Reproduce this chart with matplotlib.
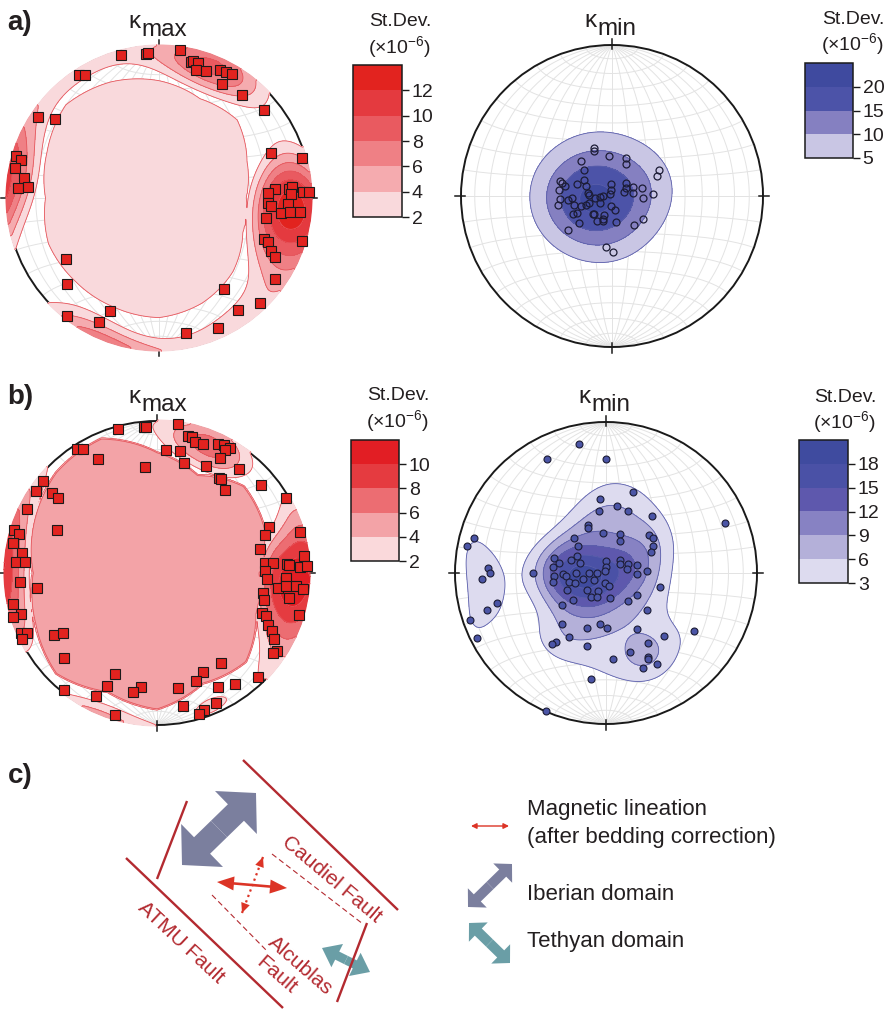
import matplotlib.pyplot as plt
import numpy as np
from matplotlib.patches import Circle, FancyArrow

plt.rcParams["font.family"] = ["Liberation Sans", "DejaVu Sans"]

W, H = 892, 1010
INK = "#231f20"

# Principal susceptibility axes, lower hemisphere equal-area net (unit radius, x=E, y=N)
kmax_a = np.array([
    [-0.252, 0.941], [-0.088, 0.947], [-0.075, 0.956], [0.140, 0.971], [0.208, 0.893],
    [0.226, 0.899], [0.257, 0.886], [0.243, 0.842], [0.309, 0.838], [0.404, 0.842],
    [0.439, 0.829], [0.482, 0.816], [0.417, 0.752], [0.546, 0.675], [0.689, 0.579],
    [-0.526, 0.809], [-0.487, 0.809], [-0.794, 0.533], [-0.686, 0.520], [-0.943, 0.276],
    [-0.906, 0.250], [-0.947, 0.195], [-0.886, 0.129], [-0.928, 0.068], [-0.864, 0.070],
    [0.739, 0.298], [0.939, 0.265], [0.765, 0.057], [0.717, 0.035], [0.853, 0.057],
    [0.877, 0.070], [0.871, 0.029], [0.947, 0.037], [0.985, 0.037], [0.717, -0.035],
    [0.737, -0.050], [0.851, -0.037], [0.803, -0.101], [0.860, -0.090], [0.928, -0.090],
    [0.702, -0.134], [0.693, -0.272], [0.717, -0.289], [0.939, -0.283], [0.739, -0.346],
    [0.763, -0.386], [0.765, -0.533], [0.664, -0.689], [-0.614, -0.399], [-0.607, -0.564],
    [0.428, -0.596], [-0.605, -0.776], [-0.325, -0.746], [-0.397, -0.814], [0.520, -0.739],
    [0.390, -0.853], [0.175, -0.886],
])
kmin_a = np.array([
    [-0.117, 0.319], [-0.117, 0.297], [-0.022, 0.267], [0.090, 0.251], [0.093, 0.211],
    [-0.207, 0.233], [-0.185, 0.174], [0.311, 0.174], [0.300, 0.134], [-0.344, 0.099],
    [-0.329, 0.086], [-0.311, 0.068], [-0.352, 0.040], [-0.231, 0.081], [-0.185, 0.104],
    [-0.170, 0.068], [-0.004, 0.077], [-0.009, 0.040], [-0.011, 0.011], [0.093, 0.084],
    [0.139, 0.057], [0.093, 0.051], [0.077, 0.024], [0.137, 0.018], [0.198, 0.051],
    [0.205, -0.011], [0.269, 0.015], [-0.161, 0.018], [-0.152, 0.007], [-0.115, -0.015],
    [-0.079, -0.009], [-0.062, 0.002], [-0.079, -0.046], [-0.344, -0.020], [-0.293, -0.029],
    [-0.267, -0.015], [-0.355, -0.059], [-0.251, -0.059], [-0.207, -0.068], [-0.170, -0.059],
    [-0.150, -0.048], [-0.009, -0.064], [0.018, -0.090], [-0.231, -0.114], [-0.258, -0.121],
    [-0.128, -0.117], [-0.117, -0.121], [-0.051, -0.123], [-0.057, -0.150], [-0.101, -0.165],
    [-0.062, -0.165], [-0.220, -0.176], [0.029, -0.174], [0.148, -0.192], [0.205, -0.150],
    [-0.293, -0.222], [-0.040, -0.341], [0.009, -0.368],
])
kmax_b = np.array([
    [-0.257, 0.945], [-0.086, 0.963], [-0.075, 0.958], [0.140, 0.978], [0.202, 0.901],
    [0.232, 0.897], [0.248, 0.862], [0.300, 0.846], [0.404, 0.851], [0.443, 0.842],
    [0.480, 0.820], [0.450, 0.809], [0.414, 0.759], [0.180, 0.721], [0.322, 0.706],
    [0.537, 0.682], [0.057, 0.809], [0.149, 0.805], [-0.529, 0.816], [-0.489, 0.816],
    [-0.390, 0.750], [-0.077, 0.700], [0.410, 0.627], [0.419, 0.621], [0.447, 0.544],
    [0.686, 0.581], [0.847, 0.496], [-0.752, 0.605], [-0.798, 0.539], [-0.691, 0.524],
    [-0.649, 0.491], [-0.857, 0.419], [-0.656, 0.283], [-0.941, 0.283], [-0.908, 0.254],
    [-0.950, 0.199], [-0.888, 0.132], [-0.930, 0.070], [-0.866, 0.072], [-0.904, -0.061],
    [-0.789, -0.101], [-0.947, -0.206], [-0.893, -0.272], [-0.947, -0.292], [-0.893, -0.393],
    [-0.853, -0.397], [-0.888, -0.432], [-0.680, -0.410], [-0.621, -0.395], [-0.610, -0.557],
    [0.735, 0.300], [0.711, 0.252], [0.939, 0.268], [0.680, 0.158], [0.969, 0.112],
    [0.711, 0.064], [0.761, 0.064], [0.853, 0.059], [0.866, 0.050], [0.943, 0.042],
    [0.985, 0.046], [0.711, 0.015], [0.724, -0.039], [0.849, -0.031], [0.796, -0.096],
    [0.851, -0.083], [0.917, -0.083], [0.961, -0.103], [0.700, -0.129], [0.706, -0.178],
    [0.871, -0.162], [0.691, -0.261], [0.719, -0.283], [0.936, -0.276], [0.732, -0.342],
    [0.759, -0.379], [0.770, -0.436], [0.792, -0.511], [0.761, -0.529], [0.419, -0.592],
    [0.303, -0.653], [0.257, -0.711], [-0.274, -0.664], [-0.329, -0.741], [-0.103, -0.748],
    [-0.156, -0.785], [0.136, -0.759], [0.399, -0.748], [0.515, -0.732], [0.662, -0.682],
    [-0.612, -0.772], [-0.399, -0.807], [0.169, -0.875], [0.386, -0.853], [0.311, -0.901],
    [0.274, -0.930], [-0.274, -0.936],
])
kmin_b = np.array([
    [-0.182, 0.857], [-0.389, 0.752], [0.002, 0.756], [0.178, 0.534], [-0.040, 0.488],
    [-0.048, 0.413], [0.073, 0.446], [0.145, 0.413], [0.305, 0.380], [-0.116, 0.321],
    [-0.119, 0.295], [-0.022, 0.268], [0.090, 0.255], [0.092, 0.211], [0.284, 0.251],
    [0.312, 0.229], [0.310, 0.176], [0.299, 0.136], [-0.209, 0.235], [-0.185, 0.178],
    [-0.877, 0.229], [-0.923, 0.180], [-0.782, 0.035], [-0.771, 0.000], [-0.820, -0.042],
    [-0.483, 0.000], [-0.721, -0.198], [-0.785, -0.242], [-0.903, -0.312], [-0.851, -0.431],
    [-0.345, 0.101], [-0.308, 0.068], [-0.349, 0.040], [-0.231, 0.084], [-0.189, 0.110],
    [-0.169, 0.068], [-0.002, 0.079], [-0.002, 0.040], [-0.009, 0.015], [0.095, 0.088],
    [0.090, 0.057], [0.143, 0.057], [0.202, 0.051], [0.136, 0.024], [0.204, -0.009],
    [0.270, 0.015], [-0.345, -0.018], [-0.286, -0.009], [-0.262, -0.018], [-0.244, -0.059],
    [-0.207, -0.066], [-0.154, -0.042], [-0.110, 0.000], [-0.081, -0.044], [-0.062, 0.000],
    [-0.196, 0.002], [-0.352, -0.059], [-0.259, -0.114], [-0.125, -0.114], [-0.097, -0.158],
    [-0.055, -0.121], [-0.062, -0.158], [-0.004, -0.068], [0.020, -0.084], [0.029, -0.167],
    [-0.220, -0.176], [-0.290, -0.215], [0.147, -0.187], [0.204, -0.143], [0.358, -0.095],
    [0.273, -0.246], [-0.290, -0.341], [-0.125, -0.363], [-0.037, -0.336], [0.009, -0.365],
    [0.207, -0.371], [0.387, -0.415], [0.585, -0.385], [-0.246, -0.422], [-0.334, -0.457],
    [-0.360, -0.473], [-0.123, -0.481], [0.275, -0.462], [0.160, -0.521], [0.048, -0.571],
    [0.275, -0.556], [0.275, -0.571], [0.244, -0.626], [0.336, -0.602], [-0.097, -0.705],
    [-0.396, -0.916], [0.787, 0.330],
])

# St.Dev. (x1e-6) contour levels and fills
levels_max_a = [2, 4, 6, 8, 10, 12, 14]
colors_max_a = ["#f9d9dc", "#f5abaf", "#ef8085", "#e95a60", "#e43a3f", "#e2231f"]
levels_min_a = [5, 10, 15, 20, 25]
colors_min_a = ["#c9c6e4", "#8580c1", "#4c53a8", "#3f4a9f"]
levels_max_b = [2, 4, 6, 8, 10, 12]
colors_max_b = ["#fad9db", "#f3a3a7", "#ec6d72", "#e53b40", "#e21e24"]
levels_min_b = [3, 6, 9, 12, 15, 18, 21]
colors_min_b = ["#dddbef", "#b4b0d9", "#8782c3", "#5e58ad", "#4a51a6", "#3f4b9f"]

# highest St.Dev. value reached in each plot
peak_max_a, peak_min_a, peak_max_b, peak_min_b = 13.5, 21.5, 11.5, 19.5

# central plateau of the kmax plots: boundary radius every 22.5 deg from N, and its value
plateau_az = np.arange(0, 360, 22.5)
plateau_max_a = [0.765, 0.70, 0.72, 0.62, 0.566, 0.59, 0.68, 0.74,
                 0.78, 0.77, 0.77, 0.78, 0.74, 0.79, 0.86, 0.82]
plateau_max_b = [0.787, 0.69, 0.80, 0.76, 0.667, 0.70, 0.82, 0.78,
                 0.89, 0.84, 0.93, 0.86, 0.81, 0.87, 0.93, 0.95]
plateau_level_a, plateau_level_b = 3.0, 5.0

# sketch of panel c (pixel coordinates)
fault_traces = [[(243, 760), (398, 910)], [(126, 858), (283, 1008)],
                [(187, 801), (157, 879)], [(367, 923), (337, 1002)]]
dashed_traces = [[(272, 854), (363, 924)], [(212, 895), (267, 951)]]
iberian_tips = [(182, 865), (256, 793)]
tethyan_tips = [(322, 948), (370, 972)]
lineation_tips = [(217, 882), (287, 888)]
dotted_tips = [(263, 857), (242, 913)]
fault_names = [("Caudiel Fault", 332, 879, -40), ("ATMU Fault", 181, 943, -43),
               ("Alcublas", 300, 966, -41), ("Fault", 276, 975, -41)]
legend_labels = [("Magnetic lineation", 810), ("(after bedding correction)", 838),
                 ("Iberian domain", 895), ("Tethyan domain", 942)]

FAULT_RED = "#b32a30"
LIN_RED = "#dc3426"
IBERIAN = "#7b7f9e"
TETHYAN = "#6a9ea6"

fig = plt.figure(figsize=(W / 100, H / 100), dpi=100)


def px_axes(left, top, width, height, **kw):
    return fig.add_axes([left / W, 1 - (top + height) / H, width / W, height / H], **kw)


def to_vec(x, y):
    r = np.hypot(x, y)
    theta = 2 * np.arcsin(np.clip(r, 0, 1) / np.sqrt(2))
    s = np.sin(theta) / np.maximum(r, 1e-9)
    return np.stack([x * s, y * s, -np.cos(theta)], axis=-1)


def project(vx, vy, vz):
    theta = np.arccos(np.clip(-vz, -1, 1))
    r = np.sqrt(2) * np.sin(theta / 2)
    h = np.hypot(vx, vy)
    h = np.where(h < 1e-12, 1, h)
    return r * vx / h, r * vy / h


# Schmidt net: great circles through N-S axis and small circles around it
t = np.linspace(0, np.pi, 181)
net_lines = []
for a in np.radians(np.arange(10, 180, 10)):
    net_lines.append(project(np.sin(t) * np.cos(a), np.cos(t), -np.sin(t) * np.sin(a)))
    net_lines.append(project(np.sin(a) * np.cos(t), np.full_like(t, np.cos(a)), -np.sin(a) * np.sin(t)))

grid = np.linspace(-1.03, 1.03, 261)
GX, GY = np.meshgrid(grid, grid)
GR = np.hypot(GX, GY)
GAZ = np.degrees(np.arctan2(GX, GY)) % 360
GV = to_vec(GX, GY)


def field(pts, kappa, peak, background=0.0, plateau=None, level=0.0):
    """Axial Fisher-kernel density above background, scaled to the St.Dev. range."""
    p = to_vec(pts[:, 0], pts[:, 1])
    d = np.exp(kappa * (np.abs(GV @ p.T) - 1)).sum(axis=-1)
    bg = background * d[GR <= 1].mean()
    f = (d - bg) / (d.max() - bg) * peak
    if plateau is not None:
        bnd = np.interp(GAZ, plateau_az, plateau, period=360)
        f = np.maximum(f, level * np.clip((bnd - GR) / 0.02 + 1, 0, 1))
    return f


def stereonet(cx, cy, R):
    L = 1.08
    ax = px_axes(cx - R * L, cy - R * L, 2 * R * L, 2 * R * L)
    ax.set_xlim(-L, L)
    ax.set_ylim(-L, L)
    ax.axis("off")
    for xs, ys in net_lines:
        ax.plot(xs, ys, color="#e3e3e3", lw=0.7, zorder=1)
    ax.add_patch(Circle((0, 0), 1, fill=False, ec="#1a1a1a", lw=1.4, zorder=2))
    for dx, dy in [(0, 1), (1, 0), (0, -1), (-1, 0)]:
        ax.plot([dx * 0.975, dx * 1.04], [dy * 0.975, dy * 1.04], color="#1a1a1a", lw=1.1, zorder=2)
    return ax


def contours(ax, f, levels, colors, edge):
    clip = Circle((0, 0), 1.01, transform=ax.transData)
    cs = ax.contourf(GX, GY, f, levels=levels, colors=colors, zorder=3)
    cs.set_clip_path(clip)
    cl = ax.contour(GX, GY, f, levels=levels[:-1], colors=edge, linewidths=0.6, zorder=3.5)
    cl.set_clip_path(clip)
    return cs


def colorbar(cs, left, top, width, height, ticks):
    cax = px_axes(left, top, width, height)
    cb = fig.colorbar(cs, cax=cax, ticks=ticks)
    cb.outline.set_linewidth(1.1)
    cb.outline.set_edgecolor("#1a1a1a")
    cax.tick_params(direction="out", length=5, width=1.0, labelsize=14, pad=2,
                    colors="#1a1a1a", labelcolor=INK)


# overlay axes in pixel units for labels and the sketch
ov = fig.add_axes([0, 0, 1, 1], zorder=0)
ov.set_xlim(0, W)
ov.set_ylim(H, 0)
ov.axis("off")

# ---- a) ----
ax = stereonet(159, 198, 152)
cs = contours(ax, field(kmax_a, 18, peak_max_a, 1.0, plateau_max_a, plateau_level_a),
              levels_max_a, colors_max_a, "#e5575d")
ax.plot(kmax_a[:, 0], kmax_a[:, 1], "s", ms=6.5, mfc="#e2231f", mec="#1a1a1a", mew=0.8, zorder=5)
colorbar(cs, 353, 65, 49, 152, levels_max_a[:-1])

ax = stereonet(612, 196, 151)
cs = contours(ax, field(kmin_a, 12, peak_min_a), levels_min_a, colors_min_a, "#5b5fab")
ax.plot(kmin_a[:, 0], kmin_a[:, 1], "o", ms=5, mfc="none", mec="#1c1c35", mew=0.9, zorder=5)
colorbar(cs, 805, 63, 48, 95, levels_min_a[:-1])

# ---- b) ----
ax = stereonet(157, 573, 152)
cs = contours(ax, field(kmax_b, 18, peak_max_b, 1.4, plateau_max_b, plateau_level_b),
              levels_max_b, colors_max_b, "#e5575d")
ax.plot(kmax_b[:, 0], kmax_b[:, 1], "s", ms=6.5, mfc="#e2231f", mec="#1a1a1a", mew=0.8, zorder=5)
colorbar(cs, 351, 440, 48, 121, levels_max_b[:-1])

ax = stereonet(606, 573, 151)
cs = contours(ax, field(kmin_b, 30, peak_min_b), levels_min_b, colors_min_b, "#5b5fab")
ax.plot(kmin_b[:, 0], kmin_b[:, 1], "o", ms=5, mfc="#4b55a6", mec="#1c1c35", mew=0.8, zorder=5)
colorbar(cs, 799, 440, 49, 143, levels_min_b[:-1])

# titles, panel letters, colour bar headings
for x, y, sub in [(141, 28, "max"), (597, 27, "min"), (141, 403, "max"), (591, 403, "min")]:
    ov.text(x, y, "κ", ha="right", va="baseline", fontsize=17.5, color=INK)
    ov.text(x, y + 8, sub, ha="left", va="baseline", fontsize=17.5, color=INK)
for x, y, s in [(20, 23, "a)"), (20, 397, "b)"), (20, 776, "c)")]:
    ov.text(x, y, s, ha="center", va="center", fontsize=20, fontweight="bold", color=INK)
for x, y in [(400, 22), (853, 19), (398, 396), (845, 397)]:
    ov.text(x, y, "St.Dev.", ha="center", va="center", fontsize=14, color=INK)
    ov.text(x, y + 26, r"(×10$^{\mathregular{-6}}$)", ha="center", va="center", fontsize=14, color=INK)


# ---- c) sketch ----
def double_arrow(p0, p1, width, head_width, head_length, color):
    p0, p1 = np.array(p0, float), np.array(p1, float)
    mid = (p0 + p1) / 2
    for tip in (p0, p1):
        ov.add_patch(FancyArrow(mid[0], mid[1], *(tip - mid), width=width, head_width=head_width,
                                head_length=head_length, length_includes_head=True,
                                color=color, lw=0))


for (x0, y0), (x1, y1) in fault_traces:
    ov.plot([x0, x1], [y0, y1], color=FAULT_RED, lw=1.7, solid_capstyle="butt")
for (x0, y0), (x1, y1) in dashed_traces:
    ov.plot([x0, x1], [y0, y1], color=FAULT_RED, lw=0.8, ls=(0, (5, 3)))

double_arrow(*iberian_tips, 23, 60, 28, IBERIAN)
double_arrow(*tethyan_tips, 9, 26, 17, TETHYAN)
double_arrow(*lineation_tips, 2.6, 14, 17, LIN_RED)

# dotted lineation with small heads
(dx0, dy0), (dx1, dy1) = dotted_tips
ov.plot([dx0, dx1], [dy0, dy1], color=LIN_RED, lw=1.6, ls=(0, (1, 1.6)))
double_arrow(*dotted_tips, 0.01, 9, 10, LIN_RED)

for s, x, y, rot in fault_names:
    ov.text(x, y, s, ha="center", va="center", rotation=rot, rotation_mode="anchor",
            fontsize=15, color=FAULT_RED)

# legend
ov.annotate("", xy=(509, 826), xytext=(471, 826),
            arrowprops=dict(arrowstyle="<|-|>", color=LIN_RED, lw=1.0, mutation_scale=8,
                            shrinkA=0, shrinkB=0))
double_arrow((468, 907), (512, 864), 10, 27, 13, IBERIAN)
double_arrow((469, 923), (510, 963), 10, 27, 13, TETHYAN)
for s, y in legend_labels:
    ov.text(527, y, s, ha="left", va="center", fontsize=16, color=INK)

fig.savefig("out.png", dpi=100)
